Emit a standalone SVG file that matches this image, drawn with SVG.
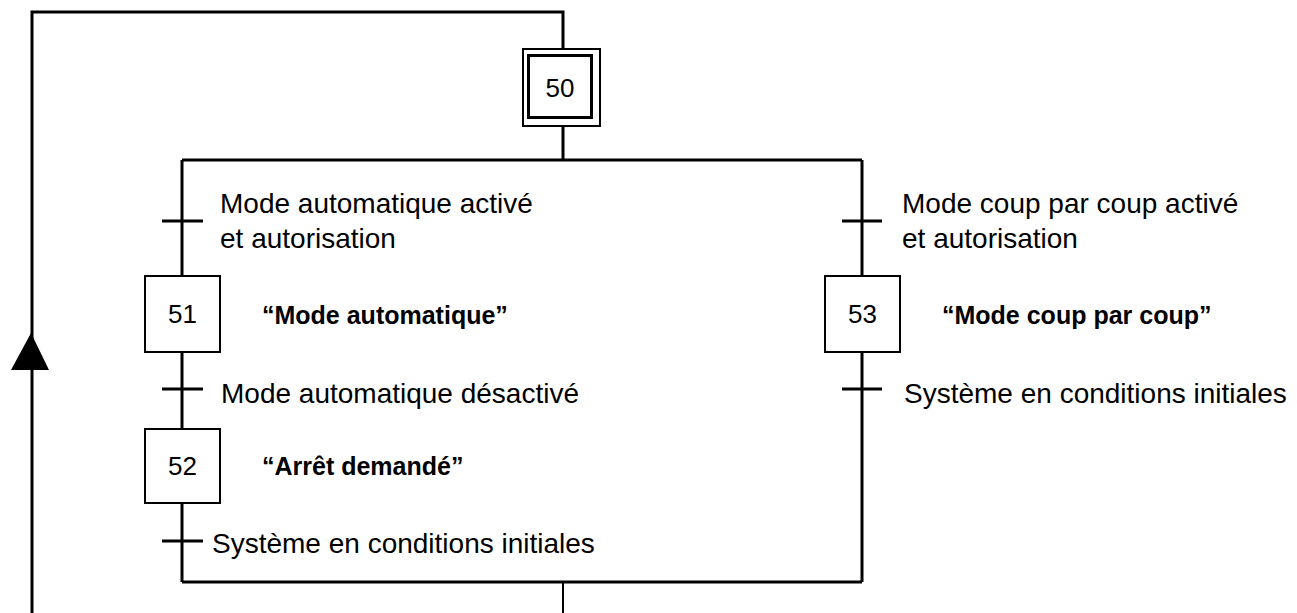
<svg xmlns="http://www.w3.org/2000/svg" width="1297" height="613" viewBox="0 0 1297 613">
<style>
.ln{fill:none;stroke:#000;stroke-width:3}
.thin{fill:none;stroke:#000;stroke-width:2}
.box{fill:#fff;stroke:#000;stroke-width:2}
.t{font-family:"Liberation Sans",Arial,sans-serif;font-size:28px;fill:#000}
.n{font-family:"Liberation Sans",Arial,sans-serif;font-size:26px;fill:#000;text-anchor:middle}
.b{font-family:"Liberation Sans",Arial,sans-serif;font-size:25px;font-weight:bold;fill:#000}
</style>
<rect width="1297" height="613" fill="#fff"/>
<g id="connectors">
<path class="ln" d="M32,613 V12 H563 V49"/>
<polygon points="31,333 49,370 11,370" fill="#000"/>
<path class="ln" d="M563,126 V160 M182,160 H862 M182,160 V276 M162,221 H203 M862,160 V276 M842,221 H882"/>
<path class="ln" d="M182,352 V429 M162,389 H203 M182,503 V582 M162,541 H203 M182,582 H862 M862,352 V582 M842,389 H882"/>
<path class="thin" d="M563,582 V613"/>
</g>
<g id="step50">
<rect x="523" y="49" width="77" height="77" class="box"/>
<rect x="528.5" y="55.5" width="63" height="62" fill="none" stroke="#000" stroke-width="3"/>
<text class="n" x="560" y="97">50</text>
</g>
<g id="step51">
<rect x="145" y="276" width="75" height="76" class="box"/>
<text class="n" x="182.5" y="323">51</text>
<text class="b" x="262" y="324">“Mode automatique”</text>
</g>
<g id="step52">
<rect x="145" y="429" width="75" height="74" class="box"/>
<text class="n" x="182.5" y="475">52</text>
<text class="b" x="262" y="475">“Arrêt demandé”</text>
</g>
<g id="step53">
<rect x="825" y="276" width="75" height="76" class="box"/>
<text class="n" x="862.5" y="323">53</text>
<text class="b" x="942" y="324">“Mode coup par coup”</text>
</g>
<g id="transitions">
<text class="t" x="220" y="213">Mode automatique activé</text>
<text class="t" x="220" y="248">et autorisation</text>
<text class="t" x="902" y="213">Mode coup par coup activé</text>
<text class="t" x="902" y="248">et autorisation</text>
<text class="t" x="221" y="403">Mode automatique désactivé</text>
<text class="t" x="904" y="403">Système en conditions initiales</text>
<text class="t" x="212" y="553">Système en conditions initiales</text>
</g>
</svg>
